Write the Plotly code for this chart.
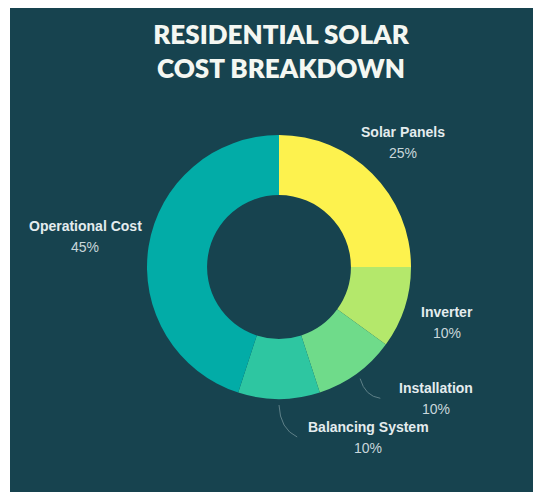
import math
import plotly.graph_objects as go

# ---- data ----
categories = ["Solar Panels", "Inverter", "Installation", "Balancing System", "Operational Cost"]
values = [25, 10, 10, 10, 45]
title_lines = ["RESIDENTIAL SOLAR", "COST BREAKDOWN"]

# ---- style ----
colors = ["#FDF24E", "#B4E86B", "#6FDB8A", "#2EC6A1", "#02ACA7"]
BG = "#17434F"
W, H = 541, 492
OFF = 8                              # page body margin in px
CX, CY, R = 279, 267, 132          # donut centre / radius in px (reference coords)
HOLE = 0.545
LABEL_R = 187                        # base radial distance of labels (px)
label_nudge = {                      # fine offsets (px) for readability
    "Solar Panels": (-8, 7),
    "Inverter": (-10, -3),
    "Installation": (47, -20),
    "Balancing System": (89, -17),
    "Operational Cost": (-9, -2),
}
leader_for = {"Installation", "Balancing System"}


def px2paper(x, y):
    return (x - OFF) / W, 1 - (y - OFF) / H


fig = go.Figure()
dx0, dy1 = px2paper(CX - R, CY - R)
dx1, dy0 = px2paper(CX + R, CY + R)
fig.add_trace(go.Pie(
    labels=categories,
    values=values,
    hole=HOLE,
    sort=False,
    direction="clockwise",
    rotation=0,
    marker=dict(colors=colors, line=dict(width=0)),
    textinfo="none",
    hoverinfo="label+percent",
    showlegend=False,
    domain=dict(x=[dx0, dx1], y=[dy0, dy1]),
))

annotations = []
shapes = [dict(type="rect", xref="paper", yref="paper", x0=2 / W, x1=1.02, y0=-0.05, y1=1,
               fillcolor=BG, line=dict(width=0), layer="below")]

total = sum(values)
cum = 0
for name, v in zip(categories, values):
    mid = (cum + v / 2) / total * 2 * math.pi
    cum += v
    sx, sy = math.sin(mid), -math.cos(mid)
    dx, dy = label_nudge[name]
    lx = CX + LABEL_R * sx + dx
    ly = CY + LABEL_R * sy + dy
    px, py = px2paper(lx, ly - 10)
    annotations.append(dict(x=px, y=py, xref="paper", yref="paper", text=f"<b>{name}</b>",
                            showarrow=False, xanchor="center", yanchor="middle",
                            font=dict(family="Liberation Sans, Arial", size=14, color="#E4ECEE")))
    px, py = px2paper(lx, ly + 11)
    annotations.append(dict(x=px, y=py, xref="paper", yref="paper", text=f"{v / total * 100:.0f}%",
                            showarrow=False, xanchor="center", yanchor="middle",
                            font=dict(family="Liberation Sans, Arial", size=14, color="#C9D7DB")))
    if name in leader_for:
        x0, y0 = CX + (R + 6) * sx, CY + (R + 6) * sy
        tw = 7.6 * len(name)
        x1, y1 = lx - tw / 2 - 10, ly
        if name == "Installation":
            qx, qy = x0 + 5, y1 - 2
        else:
            qx, qy = x0 + 1, y1 - 8
        p0 = px2paper(x0, y0); q = px2paper(qx, qy); p1 = px2paper(x1, y1)
        shapes.append(dict(type="path", xref="paper", yref="paper",
                           path=f"M {p0[0]} {p0[1]} Q {q[0]} {q[1]} {p1[0]} {p1[1]}",
                           line=dict(color="#5E8088", width=1)))

tx, ty = px2paper(281, 44)
fig.update_layout(
    width=W, height=H,
    margin=dict(l=0, r=0, t=0, b=0),
    paper_bgcolor="white",
    plot_bgcolor=BG,
    title=dict(text="<br>".join(title_lines), x=tx, xanchor="center", y=ty, yanchor="middle",
               font=dict(family="Lato", size=26, color="#F4F7F2", weight=800)),
    annotations=annotations,
    shapes=shapes,
)

fig.write_html("out.html")
